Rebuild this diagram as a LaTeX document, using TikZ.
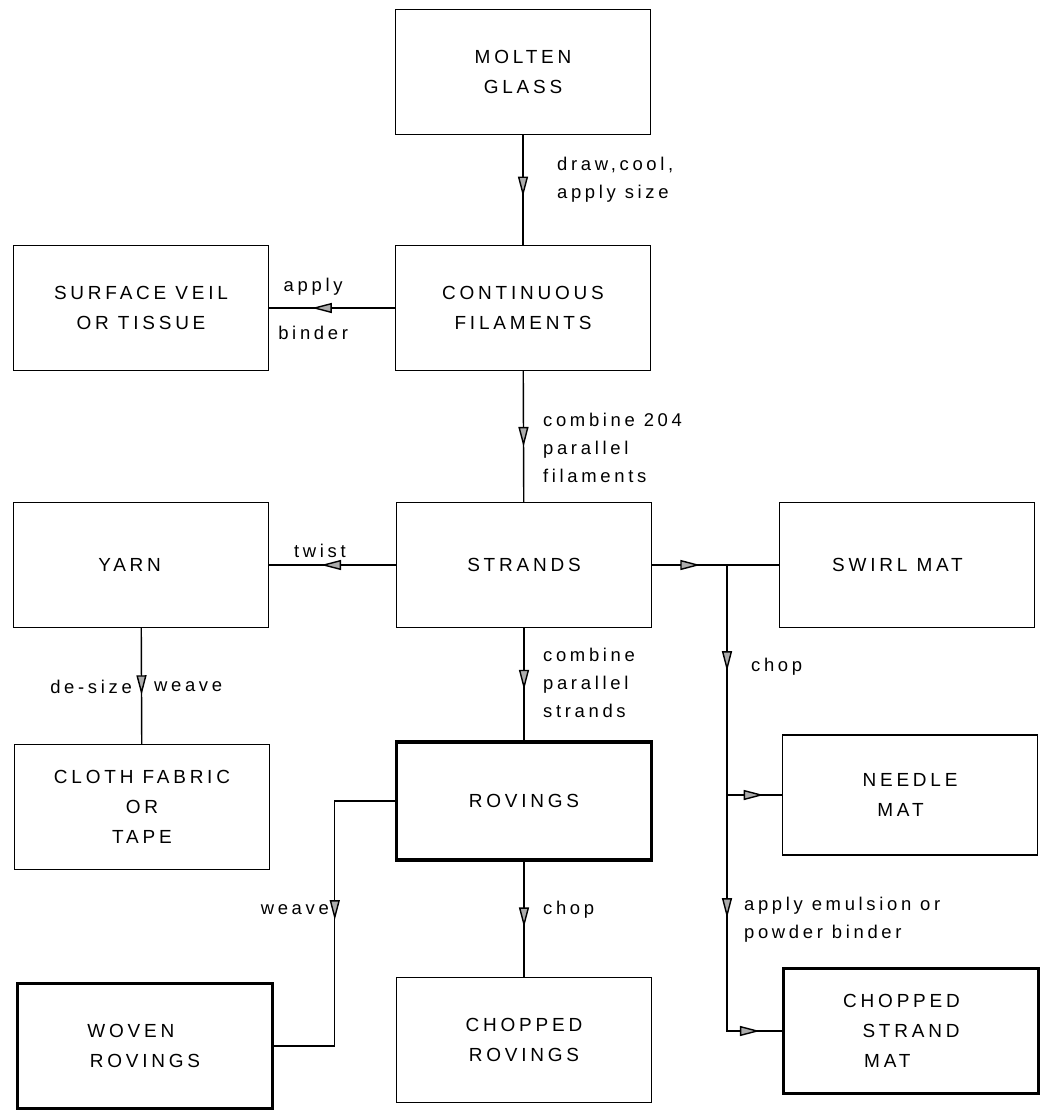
\documentclass[tikz,border=0pt]{standalone}
\usepackage{fontspec}
\setmainfont{Liberation Sans}[LetterSpace=20]
\usetikzlibrary{arrows.meta,decorations.markings}

\begin{document}
\begin{tikzpicture}[
    x=0.02cm, y=-0.02cm,
    box/.style={draw, line width=0.8pt, minimum width=5.1cm, minimum height=2.5cm, align=center, font=\fontsize{10.8}{17}\selectfont},
    heavy/.style={box, line width=2pt},
    note/.style={font=\fontsize{10.5}{16}\selectfont, align=left, inner sep=1pt},
    link/.style={line width=0.8pt},
    midtip/.style={postaction={decorate, decoration={markings, mark=at position #1 with {\arrow{Triangle[length=4mm, width=2mm, fill=gray!65]}}}}}
  ]
    \useasboundingbox (0,0) rectangle (1039,1113);

    % boxes
    \node[box] (molten) at (523,72) {MOLTEN\\GLASS};
    \node[box] (cont) at (523,308) {CONTINUOUS\\FILAMENTS};
    \node[box] (veil) at (141,308) {SURFACE VEIL\\OR TISSUE};
    \node[box] (strands) at (524,565) {STRANDS};
    \node[box] (yarn) at (141,565) {YARN\hspace*{1.2em}};
    \node[box] (swirl) at (907,565) {SWIRL MAT\hspace*{1em}};
    \node[box] (cloth) at (142,807) {CLOTH FABRIC\\OR\\TAPE};
    \node[heavy, minimum height=2.36cm] (rovings) at (524,801) {ROVINGS};
    \node[box, minimum height=2.4cm] (needle) at (910,795) {NEEDLE\\MAT\hspace*{1em}};
    \node[heavy] (woven) at (145,1046) {WOVEN\hspace*{1.5em}\\ROVINGS};
    \node[box] (chopr) at (524,1040) {CHOPPED\\ROVINGS};
    \node[heavy] (csm) at (911,1031) {CHOPPED\hspace*{1em}\\STRAND\\MAT\hspace*{2.5em}};

    % connectors
    \draw[link, midtip=0.56] (molten) -- (cont);
    \node[note, anchor=west] (drawlbl) at (555,180) {draw,cool,\\apply size};

    \draw[link, midtip=0.66] (cont.west) -- node[note, pos=0.65, above=6pt] (applylbl) {apply}
        node[note, pos=0.65, below=9pt] (binderlbl) {binder} (veil.east);

    \draw[link, midtip=0.58] (cont) -- (strands);
    \node[note, anchor=west] (combinelbl) at (541,448) {combine 204\\parallel\\filaments};

    \draw[link, midtip=0.59] (strands.west) -- node[note, pos=0.6, above=3pt] (twistlbl) {twist} (yarn.east);

    \draw[link, midtip=0.58] (yarn) -- (cloth);
    \node[note, anchor=east] (desizelbl) at (134,687) {de-size};
    \node[note, anchor=west] (weavelbl) at (152,687) {weave};

    \draw[link, midtip=0.55] (strands) -- (rovings);
    \node[note, anchor=west] (strandslbl) at (541,683) {combine\\parallel\\strands};

    \draw[link, midtip=0.49] (rovings.west) -- ++(-60,0) |- (woven.east);
    \node[note, anchor=east] (wovenlbl) at (331,910) {weave};

    \draw[link, midtip=0.57] (rovings) -- (chopr);
    \node[note, anchor=west] (choprlbl) at (541,910) {chop};

    \draw[link, midtip=0.38] (strands.east) -- (swirl.west);
    \coordinate (bus) at (727,565);
    \draw[link, midtip=0.204, midtip=0.678, midtip=0.958] (bus) |- (csm.west);
    \draw[link, midtip=0.67] (bus |- needle.west) -- (needle.west);
    \node[note, anchor=west] (choplbl) at (749,667) {chop};
    \node[note, anchor=west] (binderlbl2) at (742,920) {apply emulsion or\\powder binder};
  \end{tikzpicture}
\end{document}
